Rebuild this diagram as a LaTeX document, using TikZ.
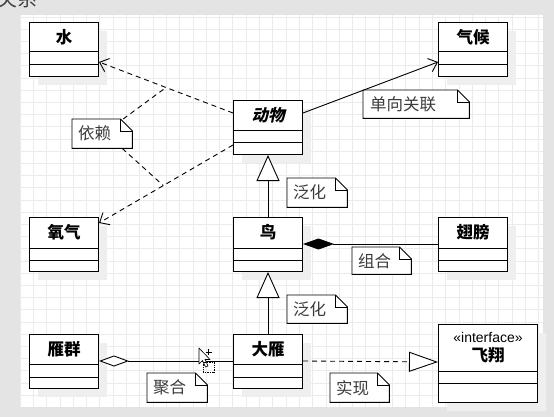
\documentclass[tikz,border=0pt]{standalone}
\usepackage{fontspec}
\setmainfont{Liberation Sans}
\newfontfamily\cjk{Noto Sans CJK SC}
\newfontfamily\cjksl[FakeSlant=0.22]{Noto Sans CJK SC}
\usetikzlibrary{arrows.meta,calc}
\definecolor{bg}{HTML}{E4E4E4}
\definecolor{gridc}{HTML}{EBEBEB}
\definecolor{shadowc}{HTML}{EFEFEF}
\definecolor{notetext}{HTML}{3C3C3C}
\tikzset{
  cls/.style={draw=black, line width=1pt, fill=white, anchor=north west, inner sep=0pt,
    minimum width=69pt, minimum height=54pt},
  clsshadow/.style={fill=shadowc, draw=none, anchor=north west, inner sep=0pt,
    minimum width=69pt, minimum height=54pt},
  divider/.style={line width=1pt},
  clsname/.style={font=\cjk\bfseries\fontsize{16.5}{16.5}\selectfont, inner sep=0pt},
  notefill/.style={draw=black, line width=0.9pt, fill=white},
  notetxt/.style={font=\cjk\fontsize{16.5}{16.5}\selectfont, text=notetext, anchor=west, inner sep=0pt},
  notebase/.style={draw=none, inner sep=0pt, anchor=north west},
  dep/.style={line width=0.9pt, dash pattern=on 5pt off 4pt},
  barb/.style={-{Straight Barb[length=8pt,width=14pt,line width=0.9pt]}},
  gen/.style={line width=0.9pt, -{Triangle[open,length=26pt,width=23pt,fill=white,line width=0.9pt]}},
  rea/.style={line width=0.9pt, dash pattern=on 5pt off 4pt, -{Triangle[open,length=29pt,width=20pt,fill=white,line width=0.9pt]}},
  comp/.style={line width=0.9pt, -{Diamond[length=31pt,width=11pt,fill=black,line width=0.9pt]}},
  agg/.style={line width=0.9pt, -{Diamond[open,length=30pt,width=11pt,fill=white,line width=0.9pt]}},
}
\newcommand{\umlclass}[4]{% name, position, label, divider1
  \node[clsshadow] at ($#2+(9,9)$) {};
  \node[cls] (#1) at #2 {};
  \draw[divider] ([yshift=-#4pt]#1.north west) -- ([yshift=-#4pt]#1.north east);
  \draw[divider] ([yshift=-43pt]#1.north west) -- ([yshift=-43pt]#1.north east);
  \node[clsname] at ([yshift=-15pt]#1.north) {#3};
}
\newcommand{\umlnote}[5]{% name, x, y, w, h
  \node[notebase, minimum width=#4pt, minimum height=#5pt] (#1) at (#2,#3) {};
  \draw[notefill] (#1.south west) -- (#1.north west) -- ([xshift=-12pt]#1.north east)
     -- ([yshift=-12pt]#1.north east) -- (#1.south east) -- cycle;
  \draw[line width=0.9pt] ([xshift=-12pt]#1.north east) |- ([yshift=-12pt]#1.north east);
}
\begin{document}
\begin{tikzpicture}[x=1pt,y=-1pt]
\useasboundingbox (0,0) rectangle (554,417);
\fill[bg] (0,0) rectangle (554,417);
\node[font=\cjk\fontsize{20}{20}\selectfont, text=black!75, anchor=south west, inner sep=0pt] (title) at (-3,8) {关系};
\fill[white] (20,15) rectangle (543,407);
\foreach \i in {0,...,39} \draw[gridc, line width=0.8pt] (20+13.3*\i,15) -- (20+13.3*\i,407);
\foreach \j in {0,...,31} \draw[gridc, line width=0.8pt] (20,17+12.2*\j) -- (543,17+12.2*\j);

% classes
\umlclass{shui}{(29,22)}{水}{30}
\umlclass{qihou}{(438,22)}{气候}{30}
\umlclass{dongwu}{(233,100)}{{\cjksl\bfseries 动物}}{31}
\umlclass{yangqi}{(29,217)}{氧气}{31}
\umlclass{niao}{(233,217)}{鸟}{31}
\umlclass{chibang}{(438,217)}{翅膀}{31}
\umlclass{yanqun}{(29,334)}{雁群}{30}
\umlclass{dayan}{(233,334)}{大雁}{30}

% interface
\node[clsshadow, minimum width=99pt, minimum height=78pt] at (447,333) {};
\node[cls, minimum width=99pt, minimum height=78pt] (feixiang) at (438,324) {};
\draw[divider] ([yshift=-47pt]feixiang.north west) -- ([yshift=-47pt]feixiang.north east);
\draw[divider] ([yshift=-59pt]feixiang.north west) -- ([yshift=-59pt]feixiang.north east);
\node[font=\fontsize{14}{14}\selectfont, inner sep=0pt] (stereo) at ([yshift=-13pt]feixiang.north) {«interface»};
\node[clsname] (fxname) at ([yshift=-31pt]feixiang.north) {飞翔};

% notes
\umlnote{yilai}{72}{119}{60}{29}
\node[notetxt] at ([xshift=6pt]yilai.west) {依赖};
\umlnote{danxiang}{363}{90}{106}{28}
\node[notetxt] at ([xshift=7pt]danxiang.west) {单向关联};
\umlnote{fanhua1}{287}{178}{60}{29}
\node[notetxt] at ([xshift=6pt]fanhua1.west) {泛化};
\umlnote{zuhe}{352}{247}{59}{27}
\node[notetxt] at ([xshift=6pt]zuhe.west) {组合};
\umlnote{fanhua2}{287}{295}{60}{28}
\node[notetxt] at ([xshift=6pt]fanhua2.west) {泛化};
\umlnote{juhe}{147}{373}{60}{29}
\node[notetxt] at ([xshift=6pt]juhe.west) {聚合};
\umlnote{shixian}{330}{373}{59}{29}
\node[notetxt] at ([xshift=6pt]shixian.west) {实现};

% dependencies
\draw[dep, barb] ([yshift=-13pt]dongwu.north west) -- coordinate[pos=0.5] (m1) ([yshift=-40pt]shui.north east);
\draw[dep, barb] ([yshift=-45pt]dongwu.north west) -- coordinate[pos=0.52] (m2) ([yshift=-6pt]yangqi.north east);
\draw[dep] ([xshift=21pt]yilai.north) -- (m1);
\draw[dep] ([xshift=20pt]yilai.south) -- (m2);

% association
\draw[line width=0.9pt, barb] ([yshift=-13pt]dongwu.north east) -- ([yshift=-40pt]qihou.north west);

% generalizations
\draw[gen] (niao.north) -- (dongwu.south);
\draw[gen] (dayan.north) -- (niao.south);

% composition
\draw[comp] ([yshift=-27pt]chibang.north west) -- ([yshift=-27pt]niao.north east);

% aggregation
\draw[agg] ([yshift=-27pt]dayan.north west) -- ([yshift=-27pt]yanqun.north east);

% realization
\draw[rea] ([yshift=-27pt]dayan.north east) -- ([yshift=-38pt]feixiang.north west);

% mouse cursor
\draw[fill=white, line width=0.6pt, line join=round] (199,348) -- (199,364) -- (202.5,360.5) -- (205.5,367) -- (208,366) -- (205,359.5) -- (210,359.5) -- cycle;
\draw[line width=0.8pt] (205.5,352) -- (211.5,352) (208.5,349) -- (208.5,355);
\draw[densely dotted, line width=0.7pt] (203,362) rectangle (214,372);
\end{tikzpicture}
\end{document}
